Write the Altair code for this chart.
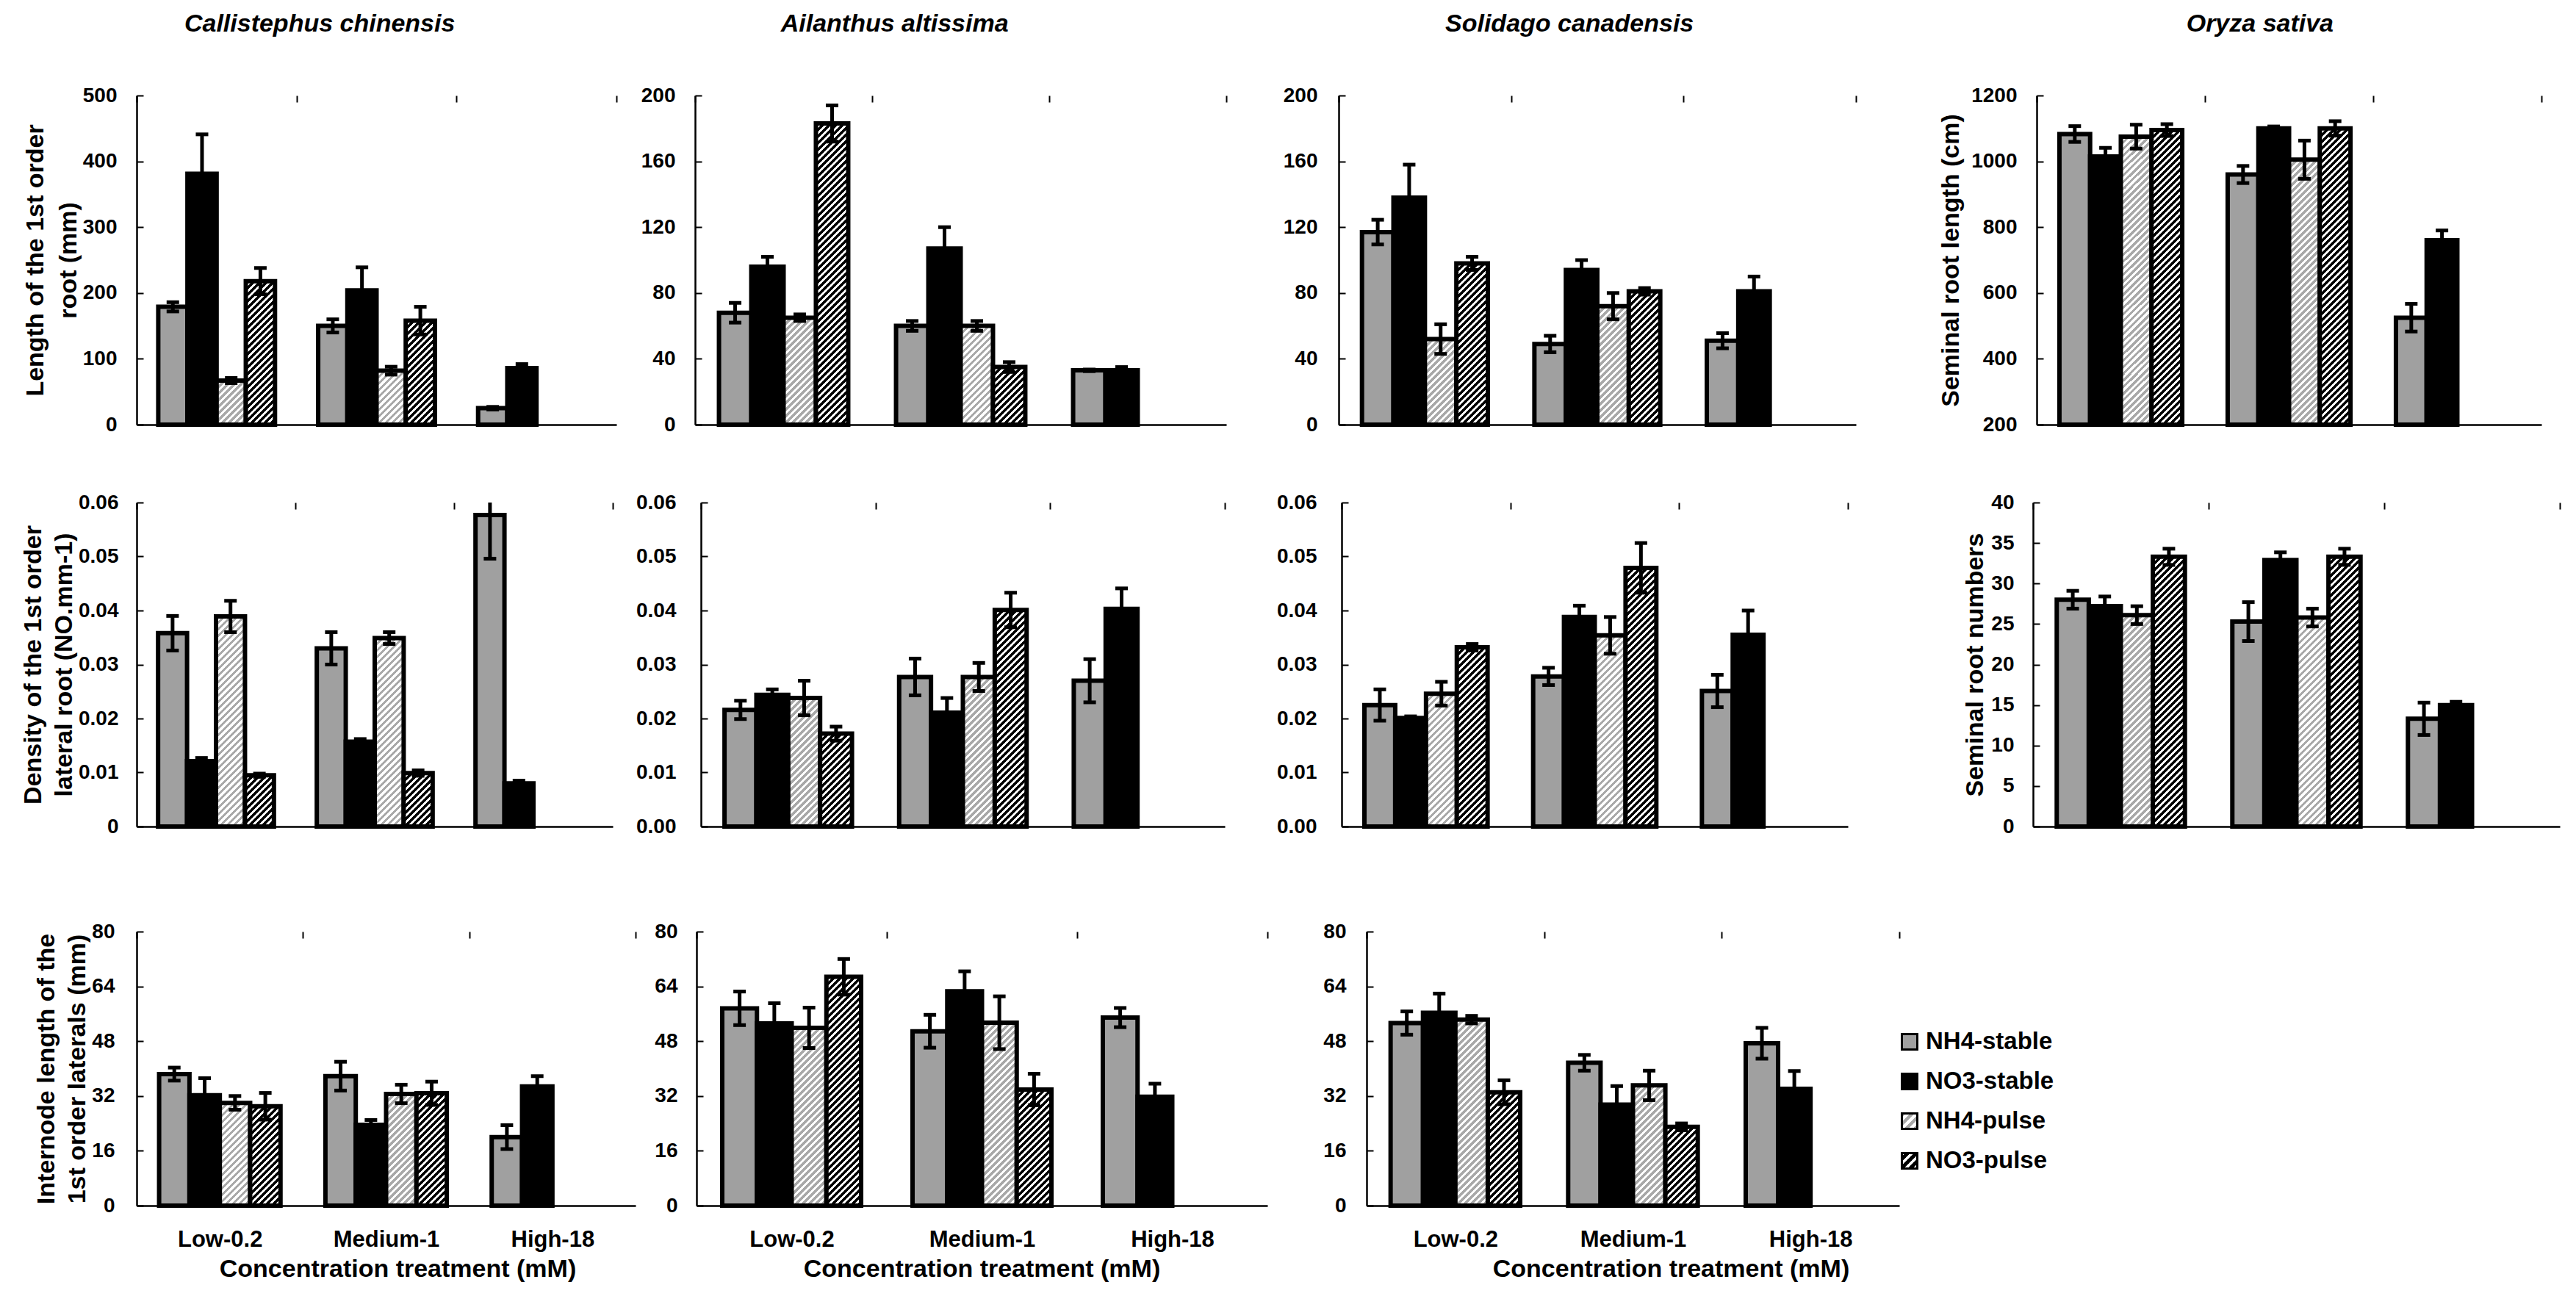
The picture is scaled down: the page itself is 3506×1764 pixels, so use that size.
import math
import altair as alt
import pandas as pd

GROUPS = ["Low-0.2", "Medium-1", "High-18"]
SERIES = ["NH4-stable", "NO3-stable", "NH4-pulse", "NO3-pulse"]
SPECIES = ["Callistephus chinensis", "Ailanthus altissima", "Solidago canadensis", "Oryza sativa"]

# rows: Low, Medium, High ; columns: NH4-stable, NO3-stable, NH4-pulse, NO3-pulse
CC_LEN = [[179, 381, 67, 218], [150, 204, 82, 158], [25, 86, None, None]]
CC_LEN_ERR = [[7, 60, 4, 20], [10, 35, 6, 21], [2, 6, None, None]]
AA_LEN = [[68, 96, 65, 183], [60, 107, 60, 35], [33, 33, None, None]]
AA_LEN_ERR = [[6, 6, 2, 11], [3, 13, 3, 3], [0.5, 2, None, None]]
SC_LEN = [[117, 138, 52, 98], [49, 94, 72, 81], [51, 81, None, None]]
SC_LEN_ERR = [[7.5, 20, 9, 4], [5, 6, 8, 2], [4.6, 9, None, None]]
OS_LEN = [[1083, 1015, 1075, 1095], [960, 1100, 1005, 1100], [525, 760, None, None]]
OS_LEN_ERR = [[24, 26, 36, 18], [26, 6, 58, 22], [42, 30, None, None]]

CC_DEN = [[0.0358, 0.0121, 0.0389, 0.0095], [0.0330, 0.0157, 0.0349, 0.0099], [0.0577, 0.0080, None, None]]
CC_DEN_ERR = [[0.0032, 0.0006, 0.0029, 0.0003], [0.0030, 0.0005, 0.0011, 0.0005], [0.0081, 0.0005, None, None]]
AA_DEN = [[0.0216, 0.0244, 0.0238, 0.0172], [0.0277, 0.0211, 0.0277, 0.0401], [0.0270, 0.0403, None, None]]
AA_DEN_ERR = [[0.0017, 0.0010, 0.0032, 0.0013], [0.0034, 0.0027, 0.0026, 0.0032], [0.0040, 0.0038, None, None]]
SC_DEN = [[0.0225, 0.0201, 0.0246, 0.0332], [0.0278, 0.0388, 0.0354, 0.0479], [0.0251, 0.0355, None, None]]
SC_DEN_ERR = [[0.0029, 0.0003, 0.0022, 0.0006], [0.0016, 0.0021, 0.0034, 0.0046], [0.0030, 0.0045, None, None]]
OS_NUM = [[28.0, 27.2, 26.1, 33.3], [25.3, 32.9, 25.8, 33.3], [13.3, 15.0, None, None]]
OS_NUM_ERR = [[1.1, 1.2, 1.1, 1.0], [2.4, 0.95, 1.1, 1.0], [2.0, 0.4, None, None]]

CC_INT = [[38.4, 32.2, 30.0, 29.0], [37.8, 23.6, 32.6, 32.8], [20.0, 34.8, None, None]]
CC_INT_ERR = [[1.9, 5.0, 2.0, 3.9], [4.2, 1.4, 2.7, 3.4], [3.5, 3.0, None, None]]
AA_INT = [[57.6, 53.2, 51.9, 66.8], [50.9, 62.6, 53.4, 33.9], [54.9, 31.8, None, None]]
AA_INT_ERR = [[4.9, 5.9, 5.9, 5.2], [4.8, 5.8, 7.7, 4.6], [2.8, 3.8, None, None]]
SC_INT = [[53.3, 56.3, 54.3, 33.1], [41.7, 29.5, 35.1, 23.0], [47.4, 34.1, None, None]]
SC_INT_ERR = [[3.4, 5.6, 1.1, 3.5], [2.3, 5.4, 4.3, 1.0], [4.5, 5.2, None, None]]

TICKS_LEN_CC = [0, 100, 200, 300, 400, 500]
TICKS_LEN = [0, 40, 80, 120, 160, 200]
TICKS_LEN_OS = [200, 400, 600, 800, 1000, 1200]
TICKS_DEN = [0, 0.01, 0.02, 0.03, 0.04, 0.05, 0.06]
TICKS_NUM = [0, 5, 10, 15, 20, 25, 30, 35, 40]
TICKS_INT = [0, 16, 32, 48, 64, 80]

FONT = "Liberation Sans"
GRAY = "#a0a0a0"
HATCH_GRAY = "#a8a8a8"
PAD_OUTER = 0.74
BAR_STROKE = 6
PERIOD = 9


def make_df(means, errs, base):
    rows = []
    for gi, g in enumerate(GROUPS):
        for si, s in enumerate(SERIES):
            m = means[gi][si]
            if m is None:
                continue
            e = errs[gi][si]
            rows.append(dict(group=g, series=s, value=m, lo=m - e, hi=m + e, base=base))
    return pd.DataFrame(rows)


def stripes(w, h, period, c_line, c_bg, duty):
    total = w + h
    k = total / (w * w + h * h)
    n = int(math.ceil(total / period))
    stops = []
    for i in range(n):
        t0 = min(1.0, i * period / total)
        t1 = min(1.0, (i + duty) * period / total)
        t2 = min(1.0, (i + 1) * period / total)
        stops += [
            alt.GradientStop(offset=t0, color=c_line),
            alt.GradientStop(offset=t1, color=c_line),
            alt.GradientStop(offset=t1, color=c_bg),
            alt.GradientStop(offset=t2, color=c_bg),
        ]
    return alt.LinearGradient(gradient="linear", stops=stops, x1=0, y1=0, x2=k * w, y2=k * h)


def panel_layers(means, errs, ticks, fmt, W, H, label_pad, ytitle=None, ylh=45, ytp=4,
                 xlabels=False, xtitle_x=None):
    ymin, ymax = ticks[0], ticks[-1]
    df = make_df(means, errs, ymin)

    xaxis_kw = dict(labels=xlabels, ticks=False, tickSize=0, tickBand="extent",
                    grid=True, gridColor="black", gridWidth=2, gridDash=[9, 10000],
                    domainColor="black", domainWidth=2.5, labelAngle=0,
                    labelFont=FONT, labelFontSize=31, labelFontWeight="bold",
                    labelColor="black", labelPadding=31)
    if xlabels:
        xaxis_kw.update(title="Concentration treatment (mM)", titleFont=FONT, titleFontSize=34,
                        titleFontWeight="bold", titleColor="black", titlePadding=8,
                        titleX=xtitle_x, titleAlign="center")
    else:
        xaxis_kw.update(title=None)
    xenc = alt.X("group:N", sort=GROUPS,
                 scale=alt.Scale(domain=GROUPS, paddingInner=0, paddingOuter=0),
                 axis=alt.Axis(**xaxis_kw))
    xoff = alt.XOffset("series:N", sort=SERIES,
                       scale=alt.Scale(domain=SERIES, paddingInner=0, paddingOuter=PAD_OUTER))

    yaxis_kw = dict(values=ticks, format=fmt, labelFont=FONT, labelFontSize=28,
                    labelFontWeight="bold", labelColor="black", labelPadding=label_pad,
                    ticks=False, tickSize=0, domainColor="black", domainWidth=2.5,
                    grid=True, gridColor="black", gridWidth=2, gridDash=[9, 10000])
    if ytitle is not None:
        yaxis_kw.update(title=ytitle, titleFont=FONT, titleFontSize=34, titleFontWeight="bold",
                        titleColor="black", titleLineHeight=ylh, titlePadding=ytp)
    else:
        yaxis_kw.update(title=None)
    yax = alt.Axis(**yaxis_kw)
    ysc = alt.Scale(domain=[ymin, ymax], nice=False, zero=False)

    base = alt.Chart(df)
    layers = []
    stable = base.transform_filter(
        alt.FieldOneOfPredicate(field="series", oneOf=["NH4-stable", "NO3-stable"])
    ).mark_bar(stroke="black", strokeWidth=BAR_STROKE).encode(
        x=xenc, xOffset=xoff,
        y=alt.Y("value:Q", scale=ysc, axis=yax), y2=alt.Y2("base:Q"),
        fill=alt.Fill("series:N", scale=alt.Scale(domain=["NH4-stable", "NO3-stable"],
                                                  range=[GRAY, "black"]), legend=None),
    )
    layers.append(stable)

    B = W / 3.0
    bw = B / (4 + 2 * PAD_OUTER)
    for _, r in df.iterrows():
        if r["series"] not in ("NH4-pulse", "NO3-pulse"):
            continue
        h = (r["value"] - ymin) / (ymax - ymin) * H
        if r["series"] == "NH4-pulse":
            grad = stripes(bw, h, PERIOD, HATCH_GRAY, "white", 0.5)
        else:
            grad = stripes(bw, h, PERIOD, "black", "white", 0.55)
        lay = base.transform_filter(
            f"datum.group === '{r['group']}' && datum.series === '{r['series']}'"
        ).mark_bar(fill=grad, stroke="black", strokeWidth=BAR_STROKE).encode(
            x=xenc, xOffset=xoff,
            y=alt.Y("value:Q", scale=ysc, axis=yax), y2=alt.Y2("base:Q"),
        )
        layers.append(lay)

    err = base.mark_rule(color="black", strokeWidth=5, clip=True).encode(
        x=xenc, xOffset=xoff,
        y=alt.Y("lo:Q", scale=ysc, axis=yax), y2=alt.Y2("hi:Q"),
    )
    cap_lo = base.mark_tick(color="black", thickness=5, size=17, opacity=1, clip=True).encode(
        x=xenc, xOffset=xoff, y=alt.Y("lo:Q", scale=ysc, axis=yax),
    )
    cap_hi = base.mark_tick(color="black", thickness=5, size=17, opacity=1, clip=True).encode(
        x=xenc, xOffset=xoff, y=alt.Y("hi:Q", scale=ysc, axis=yax),
    )
    layers += [err, cap_lo, cap_hi]
    return alt.layer(*layers)


def panel(means, errs, ticks, fmt, W, H, label_pad, title=None, tdx=0, toff=66, **kw):
    ch = panel_layers(means, errs, ticks, fmt, W, H, label_pad, **kw)
    props = dict(width=W, height=H)
    if title is not None:
        props["title"] = alt.TitleParams(text=title, font=FONT, fontSize=34, fontStyle="italic",
                                         fontWeight="bold", color="black", anchor="middle",
                                         frame="bounds", offset=toff, dx=tdx)
    return ch.properties(**props)


H1, H2, H3 = 448, 441, 373

p1 = panel(CC_LEN, CC_LEN_ERR, TICKS_LEN_CC, "d", 653, H1, 27,
           ytitle=["Length of the 1st order", "root (mm)"], ylh=45, ytp=2, title=SPECIES[0])
p2 = panel(AA_LEN, AA_LEN_ERR, TICKS_LEN, "d", 723, H1, 27, title=SPECIES[1], tdx=-53)
p3 = panel(SC_LEN, SC_LEN_ERR, TICKS_LEN, "d", 704, H1, 29, title=SPECIES[2])
p4 = panel(OS_LEN, OS_LEN_ERR, TICKS_LEN_OS, "d", 687, H1, 27,
           ytitle="Seminal root length (cm)", ytp=10, title=SPECIES[3], tdx=27)

p5 = panel(CC_DEN, CC_DEN_ERR, TICKS_DEN, ".2~f", 648, H2, 25,
           ytitle=["Density of the 1st order", "lateral root (NO.mm-1)"], ylh=42, ytp=2)
p6 = panel(AA_DEN, AA_DEN_ERR, TICKS_DEN, ".2f", 713, H2, 34)
p7 = panel(SC_DEN, SC_DEN_ERR, TICKS_DEN, ".2f", 689, H2, 34)
p8 = panel(OS_NUM, OS_NUM_ERR, TICKS_NUM, "d", 717, H2, 26,
           ytitle="Seminal root numbers", ytp=4)

p9 = panel(CC_INT, CC_INT_ERR, TICKS_INT, "d", 679, H3, 30,
           ytitle=["Internode length of the", "1st order laterals (mm)"], ylh=42, ytp=2,
           xlabels=True, xtitle_x=355)
p10 = panel(AA_INT, AA_INT_ERR, TICKS_INT, "d", 777, H3, 26, xlabels=True, xtitle_x=388)

# last panel carries the legend at its right side
W11 = 725
p11_core = panel_layers(SC_INT, SC_INT_ERR, TICKS_INT, "d", W11, H3, 28,
                        xlabels=True, xtitle_x=414)

LEG_ORDER = [0, 1, 2, 3]
leg_df = pd.DataFrame({"series": SERIES, "idx": LEG_ORDER})
yleg = alt.Y("idx:Q", scale=alt.Scale(domain=[-2.778, 4.13], reverse=True, nice=False, zero=False),
             axis=None)
leg_fills = {
    "NH4-stable": GRAY,
    "NO3-stable": "black",
    "NH4-pulse": stripes(21, 21, 12, HATCH_GRAY, "white", 0.5),
    "NO3-pulse": stripes(21, 21, 12, "white", "black", 0.35),
}
leg_layers = []
for s in SERIES:
    leg_layers.append(
        alt.Chart(leg_df).transform_filter(f"datum.series === '{s}'").mark_square(
            size=441, fill=leg_fills[s], stroke="black", strokeWidth=3, opacity=1
        ).encode(x=alt.value(W11 + 14), y=yleg)
    )
leg_text = alt.Chart(leg_df).mark_text(
    align="left", baseline="middle", dx=22, font=FONT, fontSize=33, fontWeight="bold", color="black"
).encode(x=alt.value(W11 + 14), y=yleg, text="series:N")
legend = alt.layer(*leg_layers, leg_text)

p11 = alt.layer(p11_core, legend).resolve_scale(y="independent").properties(width=W11, height=H3)

ind = dict(x="independent", y="independent", fill="independent", xOffset="independent")

row1 = alt.hconcat(
    alt.hconcat(p1, p2, spacing=33).resolve_scale(**ind),
    alt.hconcat(p3, p4, spacing=112).resolve_scale(**ind),
    spacing=77,
).resolve_scale(**ind)
row2 = alt.hconcat(
    alt.hconcat(p5, p6, spacing=31).resolve_scale(**ind),
    alt.hconcat(p7, p8, spacing=156).resolve_scale(**ind),
    spacing=70,
).resolve_scale(**ind)
row3 = alt.hconcat(
    alt.hconcat(p9, p10, spacing=25).resolve_scale(**ind),
    p11,
    spacing=75,
).resolve_scale(**ind)

chart = alt.vconcat(
    alt.vconcat(row1, row2, spacing=78).resolve_scale(**ind),
    row3,
    spacing=115,
).resolve_scale(**ind).properties(
    background="white",
    padding={"left": 20, "top": 8, "right": 8, "bottom": 8},
).configure_view(strokeWidth=0)

chart.save("out.html", embed_options={"renderer": "svg", "actions": False})
